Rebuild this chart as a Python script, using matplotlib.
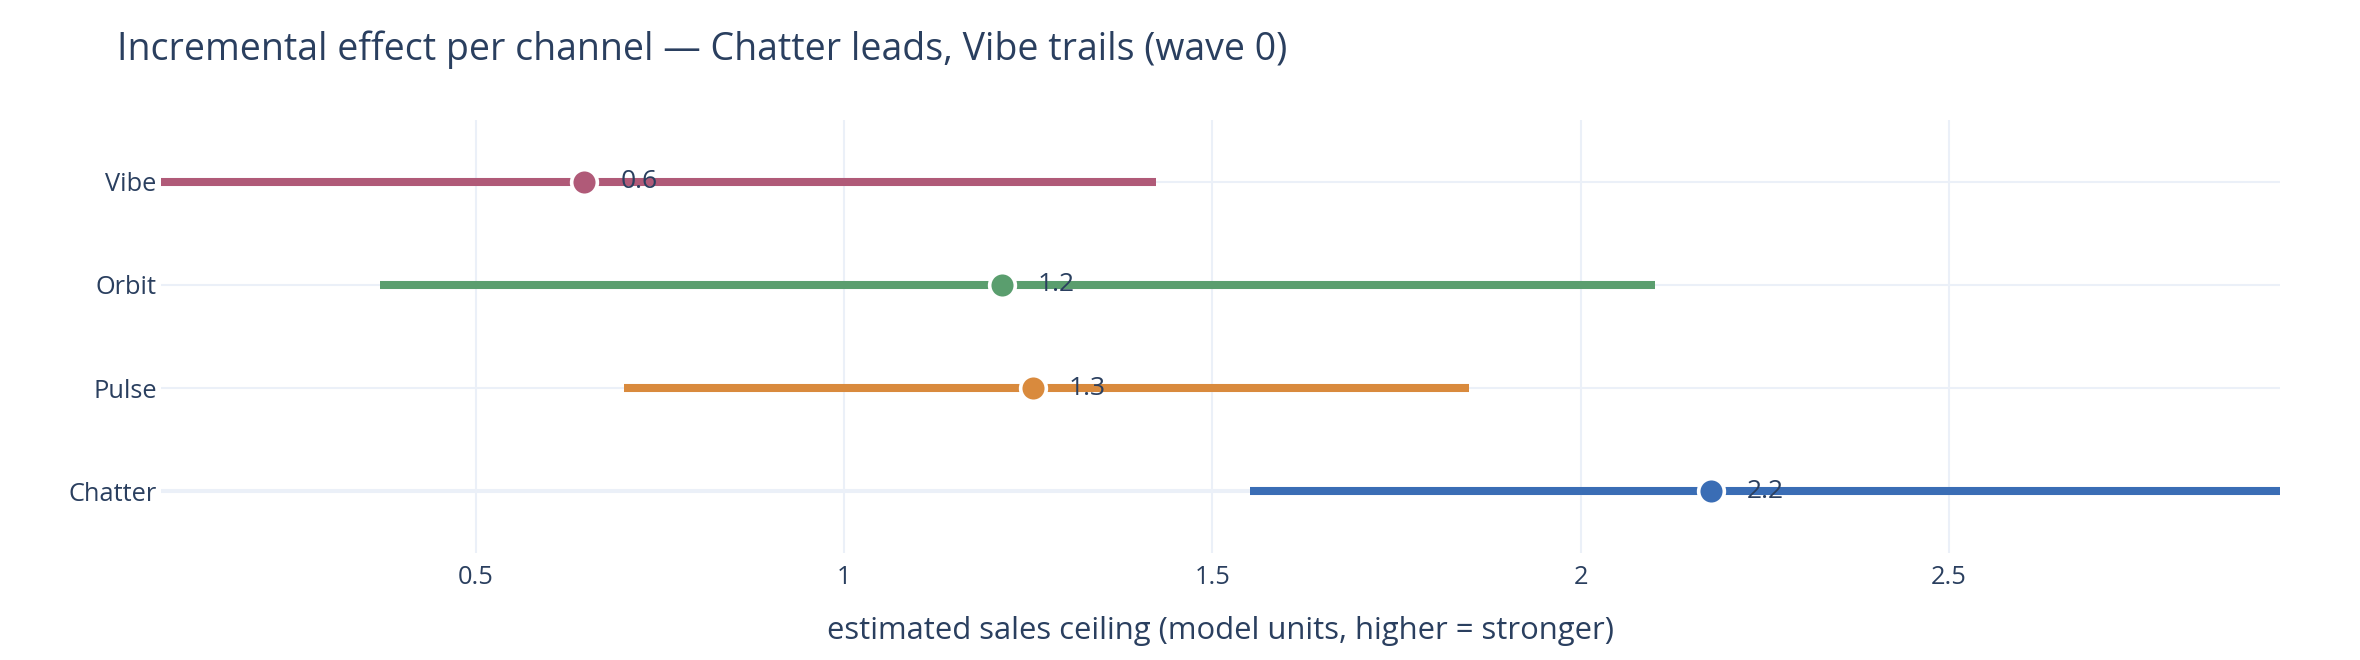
import matplotlib.pyplot as plt

plt.rcParams['font.family'] = ['Open Sans', 'DejaVu Sans']

# channels, bottom to top
channels = ['Chatter', 'Pulse', 'Orbit', 'Vibe']
estimate = [2.177, 1.256, 1.214, 0.647]
low = [1.551, 0.701, 0.370, 0.0]
high = [3.0, 1.849, 2.101, 1.424]
labels = ['2.2', '1.3', '1.2', '0.6']
colors = ['#3A6DB5', '#D98A3D', '#5A9E6E', '#B05A78']

x_ticks = [0.5, 1, 1.5, 2, 2.5]
x_ticklabels = ['0.5', '1', '1.5', '2', '2.5']

text_color = '#2a3f5f'
grid_color = '#EBF0F8'

fig = plt.figure(figsize=(23.6, 6.6), dpi=100)
ax = fig.add_axes([161 / 2360, 1 - 553 / 660, (2280 - 161) / 2360, 433 / 660])

ax.set_xlim(0.072, 2.95)
ax.set_ylim(-0.6, len(channels) - 0.4)

# grid
for xt in x_ticks:
    ax.axvline(xt, color=grid_color, lw=1.45, zorder=0)
for i in range(len(channels)):
    ax.axhline(i, color=grid_color, lw=2.9 if i == 0 else 1.45, zorder=0)

for i, name in enumerate(channels):
    ax.plot([low[i], high[i]], [i, i], color=colors[i], lw=5.8,
            solid_capstyle='butt', zorder=2)
    ax.plot([estimate[i]], [i], 'o', color=colors[i], ms=18.5,
            mec='white', mew=2.6, zorder=3)
    ax.annotate(labels[i], (estimate[i], i), xytext=(26, 0),
                textcoords='offset points', va='center', ha='left',
                fontsize=19, color=text_color, zorder=4)

ax.set_yticks(range(len(channels)))
ax.set_yticklabels(channels)
ax.set_xticks(x_ticks)
ax.set_xticklabels(x_ticklabels)
ax.tick_params(axis='both', length=0, labelsize=18.3, labelcolor=text_color)
ax.tick_params(axis='x', pad=9)
ax.tick_params(axis='y', pad=3)
for s in ax.spines.values():
    s.set_visible(False)

ax.set_xlabel('estimated sales ceiling (model units, higher = stronger)',
              fontsize=22.3, color=text_color, labelpad=18)

fig.text(117 / 2360, 1 - 50 / 660,
         'Incremental effect per channel \u2014 Chatter leads, Vibe trails (wave 0)',
         fontsize=27, color=text_color, va='center', ha='left')

fig.savefig('out.png', dpi=100, facecolor='white')
